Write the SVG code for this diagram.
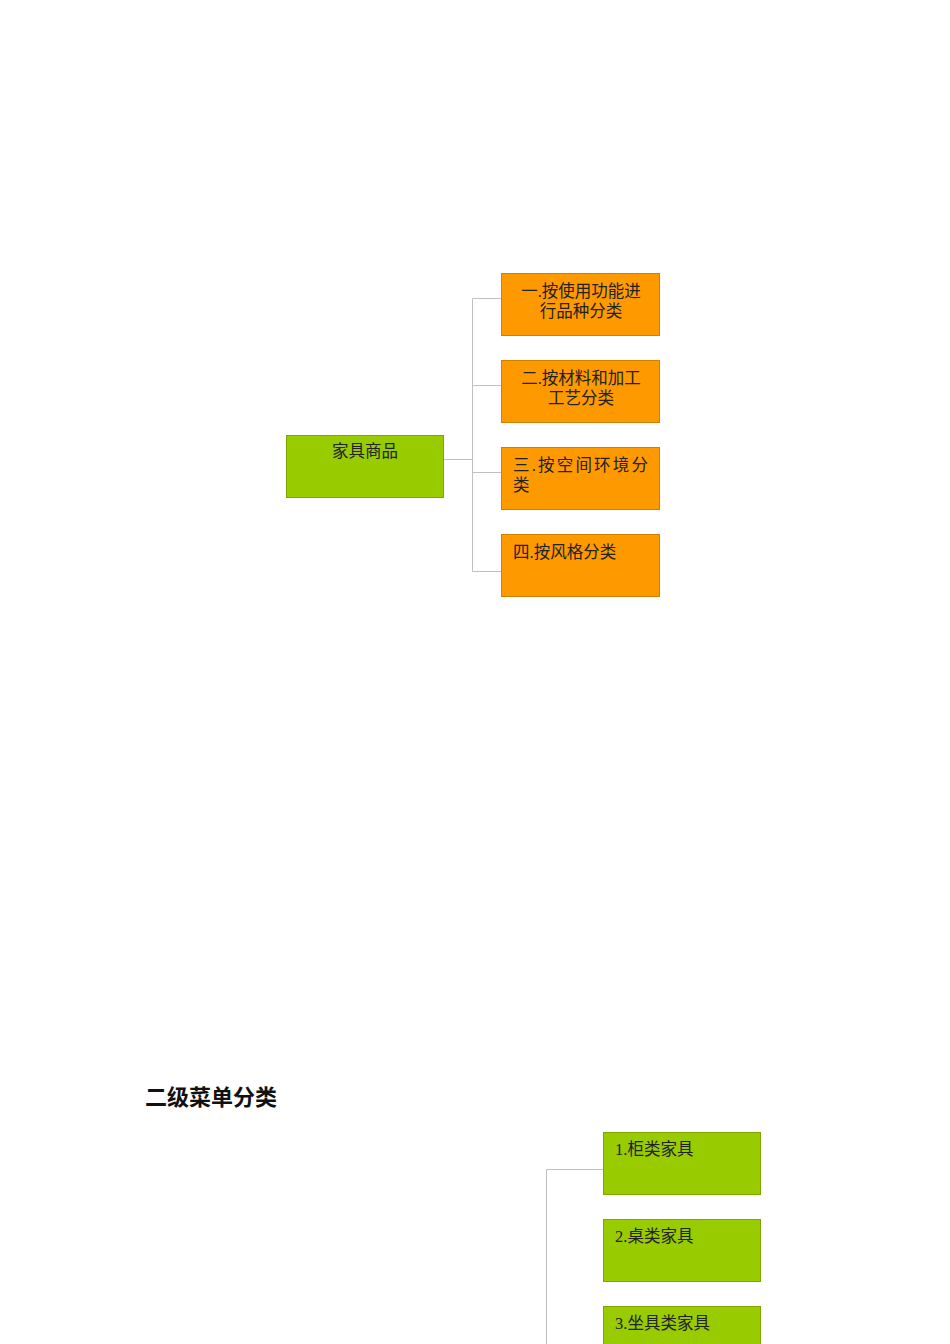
<svg xmlns="http://www.w3.org/2000/svg" width="950" height="1344" viewBox="0 0 950 1344">
<style>
.g{fill:#99CC00;stroke:#7FA600;stroke-width:1}
.o{fill:#FF9900;stroke:#D27F00;stroke-width:1}
.t{font-family:"Liberation Serif","Noto Sans CJK SC",serif;font-size:16.5px;fill:#222}
.c{text-anchor:middle}
.ln{fill:none;stroke:#C0C0C0;stroke-width:1}
.h{font-family:"Liberation Sans","Noto Sans CJK SC",sans-serif;font-size:22px;font-weight:bold;fill:#111}
</style>
<rect width="950" height="1344" fill="#fff"/>
<g id="connectors">
<path class="ln" d="M443.5 459.5H472.5M472.5 298.5V571.5M472.5 298.5H501M472.5 385.5H501M472.5 472.5H501M472.5 571.5H501"/>
<path class="ln" d="M546.5 1169.5H603M546.5 1169.5V1344"/>
</g>
<g id="root"><rect class="g" x="286.5" y="435.5" width="157" height="62"/><text class="t c" x="365" y="457">家具商品</text></g>
<g id="n1"><rect class="o" x="501.5" y="273.5" width="158" height="62"/><text class="t c" x="581" y="297">一.按使用功能进</text><text class="t c" x="581" y="317">行品种分类</text></g>
<g id="n2"><rect class="o" x="501.5" y="360.5" width="158" height="62"/><text class="t c" x="581" y="384">二.按材料和加工</text><text class="t c" x="581" y="404">工艺分类</text></g>
<g id="n3"><rect class="o" x="501.5" y="447.5" width="158" height="62"/><text class="t" x="513" y="471" textLength="135" lengthAdjust="spacing">三.按空间环境分</text><text class="t" x="513" y="491">类</text></g>
<g id="n4"><rect class="o" x="501.5" y="534.5" width="158" height="62"/><text class="t" x="513" y="558">四.按风格分类</text></g>
<text class="h" x="145" y="1105">二级菜单分类</text>
<g id="b1"><rect class="g" x="603.5" y="1132.5" width="157" height="62"/><text class="t" x="615" y="1155">1.柜类家具</text></g>
<g id="b2"><rect class="g" x="603.5" y="1219.5" width="157" height="62"/><text class="t" x="615" y="1242">2.桌类家具</text></g>
<g id="b3"><rect class="g" x="603.5" y="1306.5" width="157" height="62"/><text class="t" x="615" y="1329">3.坐具类家具</text></g>
</svg>
